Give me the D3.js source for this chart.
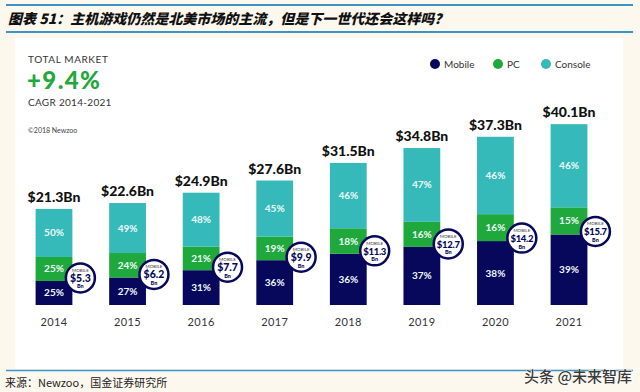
<!DOCTYPE html>
<html><head><meta charset="utf-8">
<script src="https://cdn.jsdelivr.net/npm/d3@7/dist/d3.min.js"></script>
<style>
html,body{margin:0;padding:0;background:#fdf8ee;}
svg{display:block;}
</style></head>
<body>
<svg id="c" width="640" height="392"></svg>
<script>
const years = ['2014','2015','2016','2017','2018','2019','2020','2021'];
const totals = [21.3,22.6,24.9,27.6,31.5,34.8,37.3,40.1];
const mobilePct = [25,27,31,36,36,37,38,39];
const pcPct = [25,24,21,19,18,16,16,15];
const consolePct = [50,49,48,45,46,47,46,46];
const mobileBn = [5.3,6.2,7.7,9.9,11.3,12.7,14.2,15.7];
const seriesNames = ['Mobile','PC','Console'];
const colors = ['#07075c','#1fa93c','#36b9b9'];

const FONT = 'Lato, "Noto Sans", sans-serif';
const CJK = '"Noto Sans CJK SC", sans-serif';
const svg = d3.select('#c');

// background panel
svg.append('rect').attr('x',0).attr('y',0).attr('width',640).attr('height',392).attr('fill','#fdf8ee');
svg.append('rect').attr('x',15).attr('y',38).attr('width',608).attr('height',331).attr('fill','#ffffff');

// header lines
[5,32].forEach(y=>svg.append('line').attr('x1',6).attr('x2',633).attr('y1',y).attr('y2',y)
  .attr('stroke','#3b93c6').attr('stroke-width',2));
svg.append('line').attr('x1',6).attr('x2',633).attr('y1',370.5).attr('y2',370.5)
  .attr('stroke','#3b93c6').attr('stroke-width',1.5);

svg.append('text').attr('x',8).attr('y',24).attr('font-family',CJK).attr('font-weight',900)
  .attr('font-style','italic').attr('font-size',14).attr('fill','#111')
  .text('图表 51：主机游戏仍然是北美市场的主流，但是下一世代还会这样吗？');

svg.append('text').attr('x',5).attr('y',387).attr('font-family',CJK).attr('font-size',11).attr('fill','#222')
  .text('来源：Newzoo，国金证券研究所');
svg.append('text').attr('x',632).attr('y',382).attr('text-anchor','end').attr('font-family',CJK)
  .attr('font-size',15).attr('font-weight',500).attr('fill','#3a3a3a').attr('stroke','#fff').attr('stroke-width',0.8)
  .attr('paint-order','stroke').text('头条 @未来智库');

// top-left annotation
svg.append('text').attr('x',28).attr('y',62.5).attr('font-family',FONT).attr('font-size',10)
  .attr('letter-spacing',0.6).attr('fill','#333').text('TOTAL MARKET');
svg.append('text').attr('x',27).attr('y',88.5).attr('font-family',FONT).attr('font-weight',900).attr('font-size',24)
  .attr('letter-spacing',1.4).attr('fill','#1fa93c').text('+9.4%');
svg.append('text').attr('x',28).attr('y',106).attr('font-family',FONT).attr('font-size',10)
  .attr('letter-spacing',0.3).attr('fill','#333').text('CAGR 2014-2021');
svg.append('text').attr('x',28).attr('y',133).attr('font-family',FONT).attr('font-size',7)
  .attr('fill','#444').text('©2018 Newzoo');

// legend
const legX = [435,498,546];
seriesNames.forEach((s,i)=>{
  svg.append('circle').attr('cx',legX[i]).attr('cy',64).attr('r',5).attr('fill',colors[i]);
  svg.append('text').attr('x',legX[i]+9).attr('y',68).attr('font-family',FONT).attr('font-size',10)
    .attr('fill','#333').text(s);
});

// scales
const x = d3.scaleBand().domain(years).range([17.2,605.8]).paddingInner(0.5).paddingOuter(0.25);
const y = d3.scaleLinear().domain([0,50]).range([305,79.5]);

const rows = years.map((yr,i)=>({year:yr, Mobile:totals[i]*mobilePct[i]/100, PC:totals[i]*pcPct[i]/100,
  Console:totals[i]*consolePct[i]/100, pct:{Mobile:mobilePct[i],PC:pcPct[i],Console:consolePct[i]},
  total:totals[i], mob:mobileBn[i]}));
const stack = d3.stack().keys(seriesNames)(rows);

const g = svg.append('g');
stack.forEach((layer,li)=>{
  const lg = g.append('g');
  lg.selectAll('rect').data(layer).join('rect')
    .attr('x',d=>x(d.data.year)).attr('width',x.bandwidth())
    .attr('y',d=>y(d[1])).attr('height',d=>y(d[0])-y(d[1])).attr('fill',colors[li]);
  lg.selectAll('text').data(layer).join('text')
    .attr('x',d=>x(d.data.year)+x.bandwidth()/2).attr('y',d=>(y(d[0])+y(d[1]))/2+3.5)
    .attr('text-anchor','middle').attr('font-family',FONT).attr('font-weight',700).attr('font-size',10)
    .attr('fill','#eefafa').text(d=>d.data.pct[layer.key]+'%');
});

// totals
g.selectAll('.tot').data(rows).join('text').attr('class','tot')
  .attr('x',d=>x(d.year)+x.bandwidth()/2).attr('y',d=>y(d.total)-7)
  .attr('text-anchor','middle').attr('font-family',FONT).attr('font-weight',900).attr('font-size',14)
  .attr('fill','#111').text(d=>'$'+d.total.toFixed(1)+'Bn');

// year labels
const xAxis = d3.axisBottom(x).tickSize(0).tickPadding(0);
const ax = svg.append('g').attr('transform','translate(0,326)').call(xAxis);
ax.select('.domain').remove();
ax.selectAll('text').attr('font-family',FONT).attr('font-size',11).attr('fill','#333').attr('dy',0)
  .attr('letter-spacing',0.4);

// mobile badges
const mobLayer = stack[0];
const badges = g.selectAll('.badge').data(mobLayer).join('g').attr('class','badge')
  .attr('transform',d=>`translate(${x(d.data.year)+x.bandwidth()+8},${y(d[1])-3})`);
badges.append('circle').attr('r',14.5).attr('fill','#fff').attr('stroke','#07075c').attr('stroke-width',2.5);
badges.append('text').attr('y',-6).attr('text-anchor','middle').attr('font-family',FONT).attr('font-size',4.5)
  .attr('fill','#333').text('MOBILE');
badges.append('text').attr('y',4).attr('text-anchor','middle').attr('font-family',FONT).attr('font-weight',900)
  .attr('font-size',d=>d.data.mob>=10?9.5:10.5).attr('letter-spacing',d=>d.data.mob>=10?-0.3:0)
  .attr('fill','#07075c').text(d=>'$'+d.data.mob.toFixed(1));
badges.append('text').attr('y',10.5).attr('text-anchor','middle').attr('font-family',FONT).attr('font-weight',900)
  .attr('font-size',5.5).attr('fill','#07075c').text('Bn');
</script>
</body></html>
